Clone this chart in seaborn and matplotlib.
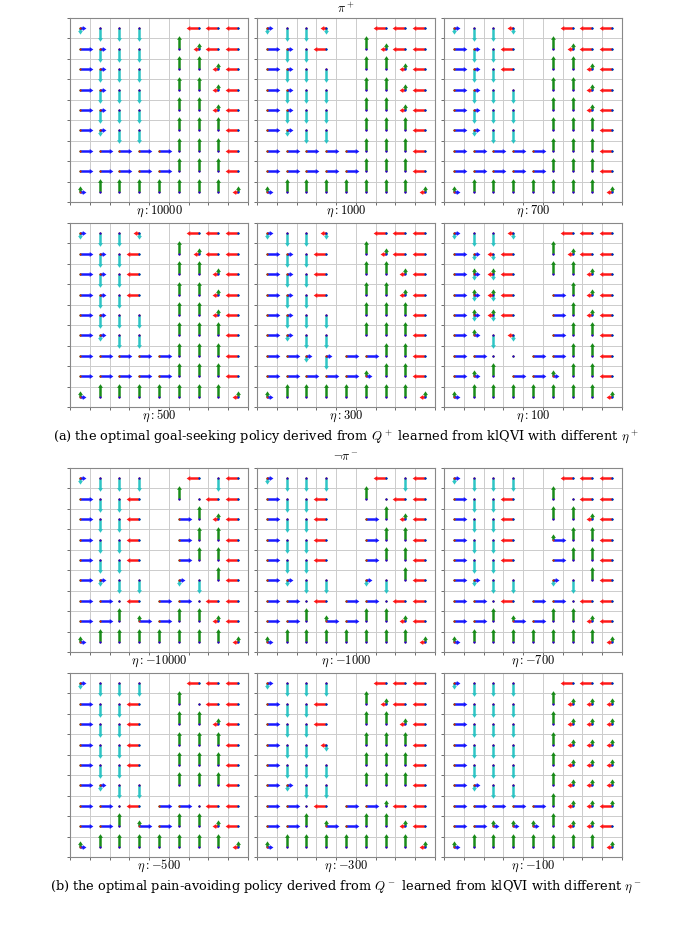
import numpy as np
import matplotlib
matplotlib.use("Agg")
import matplotlib.pyplot as plt
import seaborn as sns

sns.set_style("white")
plt.rcParams["mathtext.fontset"] = "cm"
plt.rcParams["font.family"] = ["DejaVu Serif"]
plt.rcParams["text.color"] = "black"

# Policy grids: rows top->bottom, 9 columns. '#' = wall, uppercase = long arrow, lowercase = short arrow,
# '.' = near-uniform (dots only). R=right(blue) L=left(red) U=up(green) D=down(cyan)
P_10000 = ["rd D D D # # L L L", "R rD D D # U lu L L", "R rD D D # U U lu L", "R rD D D # U U lu L",
           "R rD D D # U U lu L", "R rd D D # U U U L", "R R R R R U U U L", "R R R R R U U U L",
           "ru U U U U U U U lu"]
P_1000 = ["rd D D ld # # L L L", "R rD D L # U lu L L", "R rD D D # U U lu L", "R rD D D # U U lu L",
          "R rD D D # U U lu L", "R rd D D # U U U L", "R R R R R U U U L", "R R R R R U U U L",
          "ru U U U U U U U lu"]
P_700 = ["rd D D ld # # L L L", "R rD D L # U lu L L", "R rD D L # U U lu L", "R rD D D # U U lu L",
         "R rD D D # U U lu L", "R rd D D # U U U L", "R R R R R U U U L", "R R R R R U U U L",
         "ru U U U U U U U lu"]
P_500 = ["rd D D ld # # L L L", "R rD D L # U lu L L", "R rD D L # U U lu L", "R rD D L # U U lu L",
         "R rD D D # U U lu L", "R rd D D # U U U L", "R R R R R U U U L", "R R R R R U U U L",
         "ru U U U U U U U lu"]
P_300 = ["rd D D ld # # L L L", "R rD D L # U lu L L", "R rD D L # U U lu L", "R rD D L # U U lu L",
         "R rD D D # U U U L", "R rd D D # U U U L", "R R rd rD R R U U L", "R R R R R ru U U L",
         "ru U U U U U U U lu"]
P_100 = ["rd D D ld # # L L L", "R rd ld L # U lu L L", "R rud lud L # U U lu L", "R rud lud L # R U lu L",
         "R rud lud L # R U lu L", "R ru D ld # R U U L", "R R . . R R U U L", "R ru U R R ru U U L",
         "ru U U U U U U U lu"]
N_10000 = ["rd D D D # # L D L", "R D D L # U . L L", "R D D L # R U lu L", "R D D L # R U U L",
           "R D D L # R U U L", "R rd D D # rd D U L", "R R . L R R . L L", "R R U Ru R U U lu L",
           "ru U U U U U U U lu"]
N_1000 = ["rd D D D # # L D L", "R D D L # U . L L", "R D D L # R U lu L", "R D D L # R U U L",
          "R D D L # R U U L", "R rd D D # rd D U L", "R R . L R R . L L", "R R U Ru R U U lu L",
          "ru U U U U U U U lu"]
N_700 = ["rd D D D # # L L L", "R D D L # U . L L", "R D D L # U U lu L", "R D D L # Ru U U L",
         "R D D L # R U U L", "R rd D D # rd D U L", "R R . L R R . L L", "R R U Ru R U U lu L",
         "ru U U U U U U U lu"]
N_500 = ["rd D D D # # L L L", "R D D L # U . L L", "R D D L # U U lu L", "R D D L # U U U L",
         "R D D L # U U U L", "R rd D D # U U U L", "R R . L R R . L L", "R R U Ru R U U lu L",
         "ru U U U U U U U lu"]
N_300 = ["rd D D D # # L L L", "R D D L # U lu L L", "R D D L # U U lu L", "R D D ld # U U U L",
         "R D D D # U U U L", "R rd D D # U U U L", "R R . L R R u L L", "R R U Ru R U U lu L",
         "ru U U U U U U U lu"]
N_100 = ["rd D D D # # L L L", "R D D D # U lu lu lu", "R D D D # U lu lu lu", "R D D D # U lu lu lu",
         "R D D D # U lu lu lu", "R rd D D # U lu lu lu", "R R R R R U lu lu Lu", "R R ru ru ru U lu lu L",
         "ru U U U U U U U lu"]

labels_top = [r"$\eta: 10000$", r"$\eta: 1000$", r"$\eta: 700$", r"$\eta: 500$", r"$\eta: 300$", r"$\eta: 100$"]
labels_bot = [r"$\eta: -10000$", r"$\eta: -1000$", r"$\eta: -700$", r"$\eta: -500$", r"$\eta: -300$", r"$\eta: -100$"]
panels = [P_10000, P_1000, P_700, P_500, P_300, P_100, N_10000, N_1000, N_700, N_500, N_300, N_100]
labels = labels_top + labels_bot

LONG, SHORT, TINY = 0.65, 0.3, 0.02
DIRS = {"r": (1, 0, "#0000ff"), "l": (-1, 0, "#ff0000"), "u": (0, 1, "#008000"), "d": (0, -1, "#17bfbf")}

W, H = 691, 925
fig = plt.figure(figsize=(W / 100, H / 100), dpi=100)

xs = [70, 257, 444]
ys = [18, 223, 468, 673]
pw, ph = 178, 184


def draw(ax, grid):
    for k in np.arange(-0.5, 9.0, 1.0):
        ax.axvline(k, color="#cccccc", lw=0.7, zorder=0)
        ax.axhline(k, color="#cccccc", lw=0.7, zorder=0)
    for r, row in enumerate(grid):
        toks = row.split()
        y = 8 - r
        for c, tok in enumerate(toks):
            if tok == "#":
                continue
            for key in ["d", "u", "l", "r"]:
                dx, dy, col = DIRS[key]
                if key.upper() in tok:
                    L = LONG
                elif key in tok:
                    L = SHORT
                else:
                    L = TINY
                ax.quiver([c], [y], [dx * L], [dy * L], color=col, angles="xy", scale_units="xy",
                          scale=1, width=0.014, headwidth=2.0, headlength=1.5, headaxislength=1.4,
                          minlength=0.9, minshaft=0.5, alpha=0.9, zorder=3 if L > TINY else 4)
    ax.set_xlim(-0.5, 8.5)
    ax.set_ylim(-0.5, 8.5)
    ax.set_xticks(np.arange(-0.5, 9.0, 1.0))
    ax.set_yticks(np.arange(-0.5, 9.0, 1.0))
    ax.set_xticklabels([])
    ax.set_yticklabels([])
    ax.tick_params(length=2, width=0.6, color="#555555", left=True, bottom=True)
    for s in ax.spines.values():
        s.set_color("#888888")
        s.set_linewidth(0.8)


for i, (grid, lab) in enumerate(zip(panels, labels)):
    rr, cc = divmod(i, 3)
    x0, y0 = xs[cc], ys[rr]
    ax = fig.add_axes([x0 / W, 1 - (y0 + ph) / H, pw / W, ph / H])
    draw(ax, grid)
    fig.text((x0 + pw / 2) / W, 1 - (y0 + ph + 9) / H, lab, ha="center", va="center", fontsize=9)

fig.text(346 / W, 1 - 9 / H, r"$\pi^+$", ha="center", va="center", fontsize=9)
fig.text(346 / W, 1 - 458 / H, r"$\neg\pi^-$", ha="center", va="center", fontsize=9)
fig.text(346 / W, 1 - 437 / H,
         r"(a) the optimal goal-seeking policy derived from $Q^+$ learned from klQVI with different $\eta^+$",
         ha="center", va="center", fontsize=9.3)
fig.text(346 / W, 1 - 887 / H,
         r"(b) the optimal pain-avoiding policy derived from $Q^-$ learned from klQVI with different $\eta^-$",
         ha="center", va="center", fontsize=9.3)

fig.savefig("out.png", dpi=100)
